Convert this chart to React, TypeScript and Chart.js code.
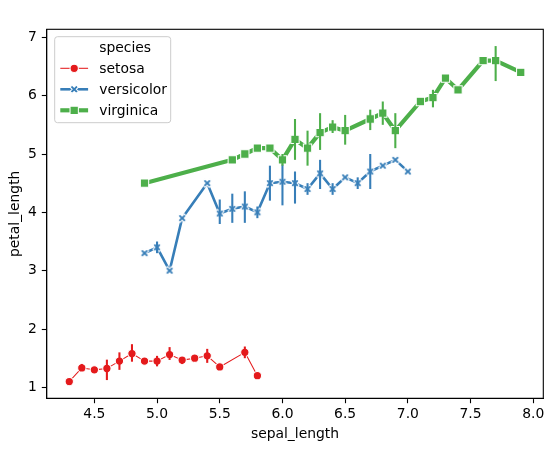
import React, { useEffect, useRef } from "react";
import { Chart, registerables } from "chart.js";

Chart.register(...registerables);

// ---------- data ----------
const SPECIES = ["setosa", "versicolor", "virginica"];
const COLORS = ["#e41a1c", "#377eb8", "#4daf4a"];

const SETOSA_X = [4.3, 4.4, 4.5, 4.6, 4.7, 4.8, 4.9, 5.0, 5.1, 5.2, 5.3, 5.4, 5.5, 5.7, 5.8];
const SETOSA_Y = [1.1, 1.333, 1.3, 1.325, 1.45, 1.58, 1.45, 1.45, 1.5625, 1.467, 1.5, 1.54, 1.35, 1.6, 1.2];
const SETOSA_LO = [null, 1.3, null, 1.125, 1.3, 1.44, 1.4, 1.36, 1.47, 1.4, null, 1.42, 1.3, 1.5, null];
const SETOSA_HI = [null, 1.4, null, 1.475, 1.6, 1.74, 1.5, 1.54, 1.69, 1.5, null, 1.66, 1.4, 1.7, null];

const VERSICOLOR_X = [4.9, 5.0, 5.1, 5.2, 5.4, 5.5, 5.6, 5.7, 5.8, 5.9, 6.0, 6.1, 6.2, 6.3, 6.4, 6.5, 6.6, 6.7, 6.8, 6.9, 7.0];
const VERSICOLOR_Y = [3.3, 3.4, 3.0, 3.9, 4.5, 3.98, 4.06, 4.1, 4.0, 4.5, 4.525, 4.5, 4.4, 4.667, 4.4, 4.6, 4.5, 4.7, 4.8, 4.9, 4.7];
const VERSICOLOR_LO = [null, 3.3, null, null, null, 3.8, 3.82, 3.82, 3.9, 4.2, 4.12, 4.15, 4.3, 4.4, 4.3, null, 4.4, 4.4, null, null, null];
const VERSICOLOR_HI = [null, 3.5, null, null, null, 4.22, 4.32, 4.36, 4.1, 4.8, 4.92, 4.7, 4.5, 4.9, 4.5, null, 4.6, 5.0, null, null, null];

const VIRGINICA_X = [4.9, 5.6, 5.7, 5.8, 5.9, 6.0, 6.1, 6.2, 6.3, 6.4, 6.5, 6.7, 6.8, 6.9, 7.1, 7.2, 7.3, 7.4, 7.6, 7.7, 7.9];
const VIRGINICA_Y = [4.5, 4.9, 5.0, 5.1, 5.1, 4.9, 5.25, 5.1, 5.367, 5.46, 5.4, 5.6, 5.7, 5.4, 5.9, 5.967, 6.3, 6.1, 6.6, 6.6, 6.4];
const VIRGINICA_LO = [null, null, null, null, null, 4.8, 4.9, 4.8, 5.07, 5.36, 5.16, 5.41, 5.5, 5.1, null, 5.8, null, null, null, 6.25, null];
const VIRGINICA_HI = [null, null, null, null, null, 5.0, 5.6, 5.4, 5.7, 5.58, 5.67, 5.76, 5.9, 5.7, null, 6.1, null, null, null, 6.85, null];

const X_TICKS = [4.5, 5.0, 5.5, 6.0, 6.5, 7.0, 7.5, 8.0];
const Y_TICKS = [1, 2, 3, 4, 5, 6, 7];
const X_MIN = 4.12;
const X_MAX = 8.08;
const Y_MIN = 0.8125;
const Y_MAX = 7.1375;

// ---------- styles ----------
const FONT_FAMILY = "'DejaVu Sans', sans-serif";
const FONT_SIZE = 13.9;
const LINE_WIDTHS = [1.04, 2.6, 4.17];
const MARKER_SIZE = 8.33;
const MARKER_EDGE = 1.04;
const ERR_WIDTH = 2.08;

const SERIES_X = [SETOSA_X, VERSICOLOR_X, VIRGINICA_X];
const SERIES_Y = [SETOSA_Y, VERSICOLOR_Y, VIRGINICA_Y];
const SERIES_LO = [SETOSA_LO, VERSICOLOR_LO, VIRGINICA_LO];
const SERIES_HI = [SETOSA_HI, VERSICOLOR_HI, VIRGINICA_HI];
const MARKERS = ["circle", "x", "square"];

const X_PATH = [
  [-0.25, -0.5], [0, -0.25], [0.25, -0.5], [0.5, -0.25], [0.25, 0], [0.5, 0.25],
  [0.25, 0.5], [0, 0.25], [-0.25, 0.5], [-0.5, 0.25], [-0.25, 0], [-0.5, -0.25],
];

function drawMarker(ctx: CanvasRenderingContext2D, kind: string, x: number, y: number, color: string) {
  const s = MARKER_SIZE;
  ctx.save();
  ctx.beginPath();
  if (kind === "circle") {
    ctx.arc(x, y, s / 2, 0, Math.PI * 2);
  } else if (kind === "square") {
    ctx.rect(x - s / 2, y - s / 2, s, s);
  } else {
    X_PATH.forEach(([px, py], i) => {
      if (i === 0) ctx.moveTo(x + px * s, y + py * s);
      else ctx.lineTo(x + px * s, y + py * s);
    });
    ctx.closePath();
  }
  ctx.fillStyle = color;
  ctx.fill();
  ctx.lineWidth = MARKER_EDGE;
  ctx.strokeStyle = "#ffffff";
  ctx.lineJoin = "miter";
  ctx.stroke();
  ctx.restore();
}

function makeXCanvas(color: string) {
  const c = document.createElement("canvas");
  const dim = 14;
  c.width = dim;
  c.height = dim;
  const ctx = c.getContext("2d")!;
  drawMarker(ctx, "x", dim / 2, dim / 2, color);
  return c;
}

const errorBarPlugin = {
  id: "errorBars",
  afterDatasetDraw(chart: any, args: any) {
    const i = args.index;
    const xs = SERIES_X[i];
    const lo = SERIES_LO[i];
    const hi = SERIES_HI[i];
    const xScale = chart.scales.x;
    const yScale = chart.scales.y;
    const ctx = chart.ctx;
    ctx.save();
    ctx.strokeStyle = COLORS[i];
    ctx.lineWidth = ERR_WIDTH;
    ctx.lineCap = "butt";
    xs.forEach((xv: number, j: number) => {
      const l = lo[j];
      const h = hi[j];
      if (l == null || h == null) return;
      const px = xScale.getPixelForValue(xv);
      ctx.beginPath();
      ctx.moveTo(px, yScale.getPixelForValue(l));
      ctx.lineTo(px, yScale.getPixelForValue(h));
      ctx.stroke();
    });
    ctx.restore();
  },
};

const frameLegendPlugin = {
  id: "frameLegend",
  afterDraw(chart: any) {
    const ctx = chart.ctx;
    const ca = chart.chartArea;
    ctx.save();
    ctx.strokeStyle = "#000";
    ctx.lineWidth = 1.1;
    ctx.strokeRect(ca.left, ca.top, ca.right - ca.left, ca.bottom - ca.top);

    // legend box
    const bx = ca.left + 8;
    const by = ca.top + 7.4;
    const bw = 116;
    const bh = 86;
    const r = 2.8;
    ctx.beginPath();
    ctx.moveTo(bx + r, by);
    ctx.lineTo(bx + bw - r, by);
    ctx.quadraticCurveTo(bx + bw, by, bx + bw, by + r);
    ctx.lineTo(bx + bw, by + bh - r);
    ctx.quadraticCurveTo(bx + bw, by + bh, bx + bw - r, by + bh);
    ctx.lineTo(bx + r, by + bh);
    ctx.quadraticCurveTo(bx, by + bh, bx, by + bh - r);
    ctx.lineTo(bx, by + r);
    ctx.quadraticCurveTo(bx, by, bx + r, by);
    ctx.closePath();
    ctx.fillStyle = "rgba(255,255,255,0.8)";
    ctx.fill();
    ctx.strokeStyle = "#cccccc";
    ctx.lineWidth = 1;
    ctx.stroke();

    ctx.font = `${FONT_SIZE}px ${FONT_FAMILY}`;
    ctx.fillStyle = "#000";
    ctx.textAlign = "left";
    ctx.textBaseline = "alphabetic";
    const textX = ca.left + 52.5;
    const hx0 = ca.left + 13.6;
    const hx1 = ca.left + 41.4;
    const rowY = (k: number) => ca.top + 18 + 21 * k;
    ctx.fillText("species", textX, rowY(0) + 5);
    SPECIES.forEach((name, i) => {
      const cy = rowY(i + 1);
      ctx.beginPath();
      ctx.moveTo(hx0, cy);
      ctx.lineTo(hx1, cy);
      ctx.strokeStyle = COLORS[i];
      ctx.lineWidth = LINE_WIDTHS[i];
      ctx.lineCap = "butt";
      ctx.stroke();
      drawMarker(ctx, MARKERS[i], (hx0 + hx1) / 2, cy, COLORS[i]);
      ctx.fillStyle = "#000";
      ctx.fillText(name, textX, cy + 5);
    });
    ctx.restore();
  },
};

export default function App() {
  const canvasRef = useRef<HTMLCanvasElement | null>(null);

  useEffect(() => {
    if (!canvasRef.current) return;
    const font = { family: FONT_FAMILY, size: FONT_SIZE };
    const pointStyles: any[] = ["circle", makeXCanvas(COLORS[1]), "rect"];
    const radii = [MARKER_SIZE / 2, 5, MARKER_SIZE / Math.SQRT2];
    const datasets = SPECIES.map((name, i) => ({
      label: name,
      data: SERIES_X[i].map((x, j) => ({ x, y: SERIES_Y[i][j] })),
      borderColor: COLORS[i],
      backgroundColor: COLORS[i],
      borderWidth: LINE_WIDTHS[i],
      borderJoinStyle: "round" as const,
      borderCapStyle: "square" as const,
      pointStyle: pointStyles[i],
      pointRadius: radii[i],
      pointBackgroundColor: COLORS[i],
      pointBorderColor: "#ffffff",
      pointBorderWidth: MARKER_EDGE,
      tension: 0,
      order: 3 - i,
    }));

    const chart = new Chart(canvasRef.current, {
      type: "line",
      data: { datasets },
      options: {
        animation: false,
        responsive: false,
        layout: { padding: { left: 0, top: 29.3, right: 12.7, bottom: 0 } },
        plugins: { legend: { display: false }, tooltip: { enabled: false } },
        scales: {
          x: {
            type: "linear",
            position: "bottom",
            min: X_MIN,
            max: X_MAX,
            afterFit: (s: any) => { s.height = 50.7; },
            afterBuildTicks: (s: any) => { s.ticks = X_TICKS.map((v) => ({ value: v })); },
            ticks: {
              color: "#000",
              font,
              padding: 3,
              maxRotation: 0,
              autoSkip: false,
              callback: (v: any) => Number(v).toFixed(1),
            },
            grid: { display: true, drawOnChartArea: false, drawTicks: true, tickLength: 4.9, tickWidth: 1.1, tickColor: "#000" },
            border: { display: true, color: "#000", width: 1.1 },
            title: { display: true, text: "sepal_length", color: "#000", font, padding: { top: 0, bottom: 6.6 } },
          },
          y: {
            type: "linear",
            position: "left",
            min: Y_MIN,
            max: Y_MAX,
            afterFit: (s: any) => { s.width = 46.7; },
            afterBuildTicks: (s: any) => { s.ticks = Y_TICKS.map((v) => ({ value: v })); },
            ticks: {
              color: "#000",
              font,
              padding: 5,
              autoSkip: false,
              callback: (v: any) => String(v),
            },
            grid: { display: true, drawOnChartArea: false, drawTicks: true, tickLength: 4.9, tickWidth: 1.1, tickColor: "#000" },
            border: { display: true, color: "#000", width: 1.1 },
            title: { display: true, text: "petal_length", color: "#000", font, padding: { top: 6.8, bottom: 0 } },
          },
        },
      },
      plugins: [errorBarPlugin, frameLegendPlugin],
    });
    return () => chart.destroy();
  }, []);

  return (
    <div style={{ position: "fixed", left: 0, top: 0, width: 556, height: 449, background: "#fff" }}>
      <canvas ref={canvasRef} width={556} height={449} style={{ display: "block", width: 556, height: 449 }} />
    </div>
  );
}
